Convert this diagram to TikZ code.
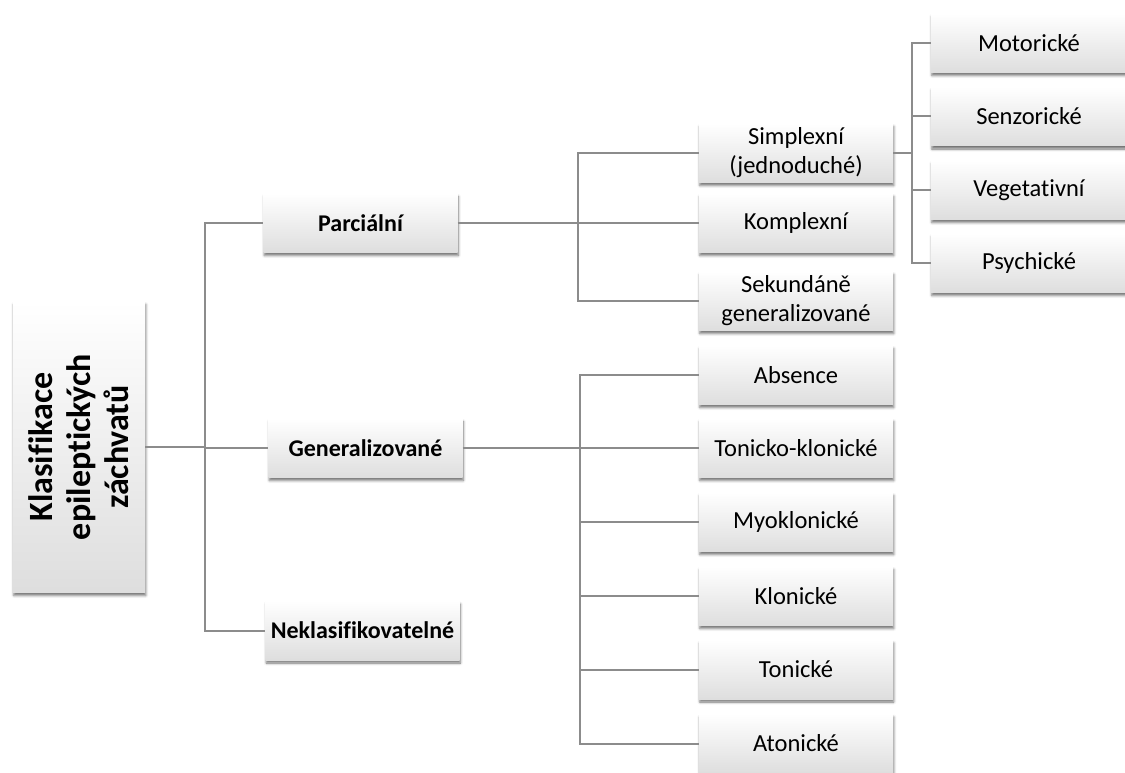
\documentclass[tikz,border=0pt]{standalone}
\usepackage{fontspec}
\setmainfont{Carlito}[Ligatures=NoCommon]
\usepackage{graphicx}
\usetikzlibrary{shadows.blur}
\tikzset{
  box/.style={minimum width=194pt, minimum height=59pt, inner sep=0pt, align=center,
    top color=white, bottom color=black!13, draw=none,
    blur shadow={shadow xshift=0.8pt, shadow yshift=-3pt, shadow blur radius=2.5pt, shadow opacity=55},
    font=\fontsize{24.5}{29}\selectfont},
  lvl/.style={box, font=\fontsize{24}{29}\selectfont\bfseries},
  leaf/.style={box, minimum width=196pt},
  conn/.style={draw=black!45, line width=2pt},
}
\begin{document}
\begin{tikzpicture}[x=1pt,y=-1pt]
\useasboundingbox (0,0) rectangle (1125,773);
\clip (0,0) rectangle (1125,773);
% root
\node[box, minimum width=132pt, minimum height=291pt] (root) at (79,447)
  {\rotatebox{90}{\parbox{240pt}{\centering\fontsize{34}{38}\selectfont\bfseries Klasifikace\\epileptických\\záchvatů}}};
% level 1
\node[lvl] (parc) at (360.5,223) {Parciální};
\node[lvl] (gen) at (365.5,448) {Generalizované};
\node[lvl] (nekl) at (362.5,630.5) {Neklasifikovatelné};
% parcialni children
\node[box] (simp) at (796,153) {Simplexní\\(jednoduché)};
\node[box] (komp) at (796,223) {Komplexní};
\node[box] (sek) at (796,301) {Sekundáně\\generalizované};
% simplexni children
\node[leaf] (mot) at (1029,43) {Motorické};
\node[leaf] (sen) at (1029,116.5) {Senzorické};
\node[leaf] (veg) at (1029,190) {Vegetativní};
\node[leaf] (psy) at (1029,263) {Psychické};
% generalizovane children
\node[box] (abs) at (796,375) {Absence};
\node[box] (tk) at (796,448) {Tonicko-klonické};
\node[box] (myo) at (796,522) {Myoklonické};
\node[box] (klo) at (796,596) {Klonické};
\node[box] (ton) at (796,669.5) {Tonické};
\node[box] (ato) at (796,743.5) {Atonické};
% connectors
\coordinate (j1) at (205,447);
\coordinate (j2) at (578,223);
\coordinate (j3) at (912,153);
\coordinate (j4) at (580,448);
\draw[conn] (root.east) -- (j1);
\draw[conn] (j1) |- (parc.west);
\draw[conn] (j1) |- (gen.west);
\draw[conn] (j1) |- (nekl.west);
\draw[conn] (parc.east) -- (j2);
\draw[conn] (j2) |- (simp.west);
\draw[conn] (j2) |- (komp.west);
\draw[conn] (j2) |- (sek.west);
\draw[conn] (simp.east) -- (j3);
\draw[conn] (j3) |- (mot.west);
\draw[conn] (j3) |- (sen.west);
\draw[conn] (j3) |- (veg.west);
\draw[conn] (j3) |- (psy.west);
\draw[conn] (gen.east) -- (j4);
\draw[conn] (j4) |- (abs.west);
\draw[conn] (j4) |- (tk.west);
\draw[conn] (j4) |- (myo.west);
\draw[conn] (j4) |- (klo.west);
\draw[conn] (j4) |- (ton.west);
\draw[conn] (j4) |- (ato.west);
\end{tikzpicture}
\end{document}
